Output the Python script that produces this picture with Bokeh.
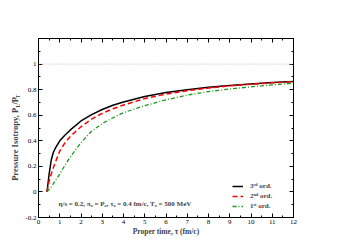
import math
from bokeh.plotting import figure
from bokeh.layouts import row
from bokeh.models import (LinearAxis, SingleIntervalTicker, CustomJSTickFormatter,
                          Label, Legend, LegendItem, Span, ColumnDataSource, Range1d)
from bokeh.embed import file_html
from bokeh.resources import INLINE

# ---- data ----
tau = [0.4, 0.45, 0.5, 0.6, 0.7, 0.8, 1.0, 1.25, 1.5, 2, 2.5, 3, 3.5, 4, 5, 6, 7, 8, 9, 10, 11, 12]
third_order = [0.0, 0.07, 0.14, 0.25, 0.31, 0.345, 0.40, 0.445, 0.485, 0.555, 0.605, 0.645, 0.678, 0.703,
               0.747, 0.777, 0.80, 0.818, 0.832, 0.845, 0.855, 0.863]
second_order = [0.0, 0.05, 0.085, 0.14, 0.19, 0.235, 0.32, 0.385, 0.435, 0.51, 0.57, 0.615, 0.65, 0.68,
                0.73, 0.765, 0.792, 0.812, 0.83, 0.843, 0.853, 0.862]
first_order = [0.0, 0.01, 0.02, 0.04, 0.065, 0.09, 0.14, 0.21, 0.275, 0.385, 0.475, 0.535, 0.58, 0.62,
               0.675, 0.72, 0.757, 0.785, 0.805, 0.822, 0.837, 0.85]
isotropic_level = 1.0
series_labels = ["3\u02b3\u1d48 ord.", "2\u207f\u1d48 ord.", "1\u02e2\u1d57 ord."]
x_label = "Proper time, \u03c4 (fm/c)"
y_label_parts = ["Pressure Isotropy, P", "L", "/P", "T"]
note = "\u03b7/s = 0.2, \u03c0\u2080 = P\u2080, \u03c4\u2080 = 0.4 fm/c, T\u2080 = 500 MeV"

SERIF = "Liberation Serif"
FIG_H = 240
STRIP_W = 20

p = figure(frame_width=255, frame_height=179, x_range=(0, 12), y_range=(-0.2, 1.2),
           min_border_left=38 - STRIP_W, min_border_top=38, min_border_right=50, min_border_bottom=23,
           output_backend="svg", toolbar_location=None)
p.xgrid.visible = False
p.ygrid.visible = False
p.outline_line_color = None
p.background_fill_color = "white"
p.border_fill_color = "white"

ytick_fmt = CustomJSTickFormatter(code="const v = Math.round(tick*10)/10; return (v > 1.1) ? '' : String(v);")
blank_fmt = CustomJSTickFormatter(code="return '';")

def style_axis(ax, labels=True):
    ax.axis_line_color = "black"
    ax.axis_line_width = 1
    ax.major_tick_in = 4
    ax.major_tick_out = 0
    ax.minor_tick_in = 2
    ax.minor_tick_out = 0
    ax.major_tick_line_color = "black"
    ax.minor_tick_line_color = "black"
    ax.major_label_text_font = SERIF
    ax.major_label_text_font_size = "7px"
    ax.major_label_text_color = "black"
    ax.major_label_standoff = 2
    if not labels:
        ax.formatter = blank_fmt
        ax.major_label_standoff = 0

p.xaxis.ticker = SingleIntervalTicker(interval=1, num_minor_ticks=2)
p.yaxis.ticker = SingleIntervalTicker(interval=0.2, num_minor_ticks=2)
p.yaxis.formatter = ytick_fmt
for ax in p.xaxis:
    style_axis(ax)
    ax.axis_label = x_label
    ax.axis_label_text_font = SERIF
    ax.axis_label_text_font_style = "bold"
    ax.axis_label_text_font_size = "7.5px"
    ax.axis_label_standoff = 0
for ax in p.yaxis:
    style_axis(ax)

top = LinearAxis(ticker=SingleIntervalTicker(interval=1, num_minor_ticks=2))
style_axis(top, labels=False)
p.add_layout(top, "above")
right = LinearAxis(ticker=SingleIntervalTicker(interval=0.2, num_minor_ticks=2))
style_axis(right, labels=False)
p.add_layout(right, "right")

p.add_layout(Span(location=isotropic_level, dimension="width", line_color="#d0a8b0",
                  line_dash="1 2", line_width=1))

src = ColumnDataSource(dict(tau=tau, third=third_order, second=second_order, first=first_order))
r3 = p.line("tau", "third", source=src, line_color="black", line_width=1.5)
r2 = p.line("tau", "second", source=src, line_color="#ff0000", line_width=1.5, line_dash="5 3")
r1 = p.line("tau", "first", source=src, line_color="#1a9a1a", line_width=1.3, line_dash="4 2 1 2")

legend = Legend(items=[LegendItem(label=series_labels[0], renderers=[r3]),
                       LegendItem(label=series_labels[1], renderers=[r2]),
                       LegendItem(label=series_labels[2], renderers=[r1])],
                location=(194, 6), padding=0, margin=0, spacing=0,
                glyph_width=11, glyph_height=10, label_height=10, label_standoff=7,
                border_line_color=None, background_fill_alpha=0,
                label_text_font=SERIF, label_text_font_style="bold", label_text_font_size="7px")
p.add_layout(legend, "center")

p.add_layout(Label(x=0.94, y=-0.098, text=note, text_font=SERIF, text_font_style="bold",
                   text_font_size="7px", text_baseline="middle", text_align="left"))

# narrow strip on the left that carries the rotated y-axis title (with subscripts)
strip = figure(width=STRIP_W, height=FIG_H, x_range=Range1d(0, STRIP_W), y_range=Range1d(FIG_H, 0),
               min_border=0, x_axis_type=None, y_axis_type=None,
               output_backend="svg", toolbar_location=None)
strip.xgrid.visible = False
strip.ygrid.visible = False
strip.outline_line_color = None
strip.border_fill_color = "white"
strip.background_fill_color = "white"

# (text, x px, y px from top, font size, alignment along the text direction)
ylab_layout = [(y_label_parts[0], 14.0, 93.0, "8.5px", "right"),
               (y_label_parts[1], 17.0, 92.5, "5.5px", "left"),
               (y_label_parts[2], 14.0, 88.5, "8.5px", "left"),
               (y_label_parts[3], 17.0, 80.0, "5.5px", "left")]
for txt, cx, cy, fs, al in ylab_layout:
    strip.add_layout(Label(x=cx, y=cy, text=txt, angle=math.pi / 2, text_font=SERIF,
                           text_font_style="bold", text_font_size=fs,
                           text_baseline="middle", text_align=al))

layout = row(strip, p, spacing=0)
open("out.html", "w").write(file_html(layout, INLINE))
